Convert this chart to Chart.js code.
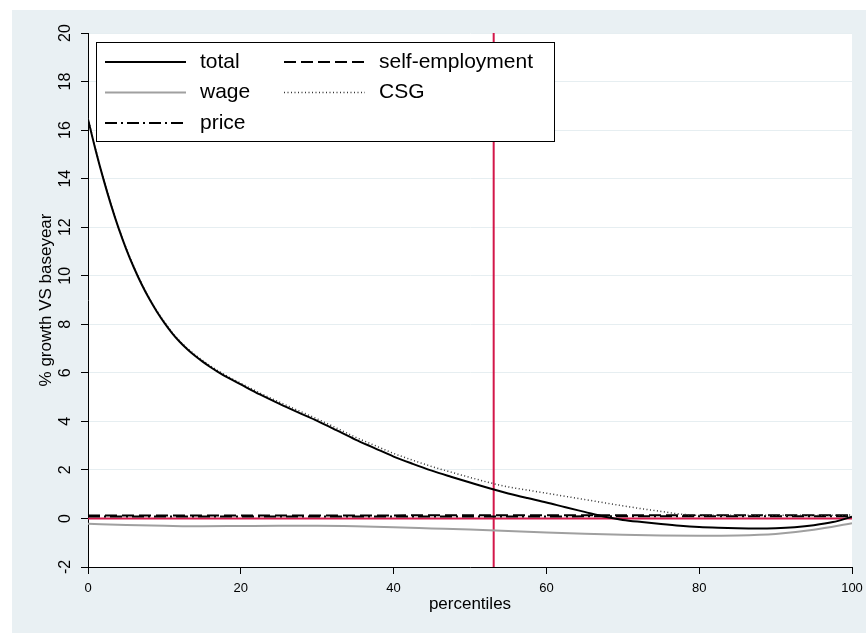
<!DOCTYPE html>
<html>
<head>
<meta charset="utf-8">
<script src="https://cdn.jsdelivr.net/npm/chart.js@4.4.1/dist/chart.umd.min.js"></script>
<style>
html,body{margin:0;padding:0;background:#ffffff;}
canvas{display:block;}
</style>
</head>
<body>
<canvas id="c" width="866" height="633"></canvas>
<script>
// ---- data ----
const xTicks = [0, 20, 40, 60, 80, 100];
const yTicks = [-2, 0, 2, 4, 6, 8, 10, 12, 14, 16, 18, 20];
const xTitle = "percentiles";
const yTitle = "% growth VS baseyear";

const xCurve = [0,1,2,3,4,5,6,7,8,9,10,11,12,13,14,15,16,17,18,20,22.5,25,27.5,30,32.5,35,37.5,40,42.5,45,47.5,50,53,55,57.5,60,62.5,65,67.5,70,72.5,75,77.5,80,82.5,85,87.5,90,92.5,95,97.5,100];
const total = [16.45,15.17,14.0,12.93,11.96,11.1,10.34,9.66,9.06,8.53,8.06,7.64,7.28,6.97,6.7,6.46,6.24,6.04,5.85,5.52,5.11,4.73,4.37,4.02,3.64,3.25,2.9,2.55,2.25,1.97,1.72,1.48,1.2,1.03,0.84,0.66,0.46,0.27,0.08,-0.06,-0.15,-0.23,-0.3,-0.35,-0.38,-0.4,-0.41,-0.4,-0.36,-0.28,-0.15,0.07];
const csg = [16.48,15.2,14.03,12.96,11.99,11.13,10.37,9.69,9.09,8.56,8.09,7.67,7.31,7.01,6.75,6.51,6.29,6.09,5.9,5.57,5.17,4.8,4.45,4.1,3.73,3.35,3.01,2.68,2.4,2.14,1.91,1.69,1.44,1.3,1.17,1.04,0.91,0.78,0.65,0.52,0.4,0.29,0.18,0.13,0.13,0.13,0.13,0.13,0.13,0.13,0.13,0.14];

const xWage = [0,5,10,15,20,25,30,35,40,45,50,55,60,65,70,75,80,85,90,95,100];
const wage = [-0.22,-0.27,-0.3,-0.32,-0.31,-0.3,-0.3,-0.32,-0.36,-0.41,-0.46,-0.52,-0.58,-0.63,-0.67,-0.7,-0.71,-0.7,-0.64,-0.47,-0.2];

const xFlat = [0, 25, 50, 75, 100];
const selfEmployment = [0.12, 0.12, 0.13, 0.13, 0.13];
const price = [0.08, 0.08, 0.08, 0.09, 0.09];

const refLineX = 53.1;   // vertical reference line (percentile)
const refLineY = 0;      // horizontal reference line

const legendOrder = ["total", "self-employment", "wage", "CSG", "price"];

// ---- helpers ----
const pts = (xs, ys) => xs.map((x, i) => ({x: x, y: ys[i]}));
const RED = '#d3174a';
const FONT = '"Liberation Sans", Arial, Helvetica, sans-serif';
Chart.defaults.font.family = FONT;
Chart.defaults.color = '#000';

const bgPlugin = {
  id: 'stataBg',
  beforeDraw(chart) {
    const ctx = chart.ctx, a = chart.chartArea;
    ctx.save();
    ctx.fillStyle = '#ffffff';
    ctx.fillRect(0, 0, chart.width, chart.height);
    ctx.fillStyle = '#e9f0f3';
    ctx.fillRect(12, 10, chart.width - 12, chart.height - 10);
    ctx.fillStyle = '#ffffff';
    ctx.fillRect(a.left, a.top, a.right - a.left, a.bottom - a.top);
    ctx.restore();
  }
};

const legendPlugin = {
  id: 'boxLegend',
  afterDraw(chart) {
    const ctx = chart.ctx, a = chart.chartArea;
    const bx = a.left + 8, by = a.top + 9, bw = 458, bh = 99;
    ctx.save();
    ctx.fillStyle = '#ffffff';
    ctx.fillRect(bx, by, bw, bh);
    ctx.strokeStyle = '#000';
    ctx.lineWidth = 1;
    ctx.strokeRect(bx + 0.5, by + 0.5, bw, bh);
    ctx.font = '21px ' + FONT;
    ctx.textBaseline = 'middle';
    ctx.textAlign = 'left';
    legendOrder.forEach((label, i) => {
      const ds = chart.data.datasets.find(d => d.label === label);
      const col = i % 2, row = Math.floor(i / 2);
      const lx = bx + 9 + col * 179;
      const ly = by + 20 + row * 30.5;
      ctx.save();
      ctx.strokeStyle = ds.borderColor;
      ctx.lineWidth = ds.borderWidth;
      ctx.setLineDash(ds.borderDash || []);
      ctx.beginPath();
      ctx.moveTo(lx, ly);
      ctx.lineTo(lx + 81, ly);
      ctx.stroke();
      ctx.restore();
      ctx.fillStyle = '#000';
      ctx.fillText(label, lx + 95, ly);
    });
    ctx.restore();
  }
};

const common = {pointRadius: 0, fill: false, cubicInterpolationMode: 'monotone'};

new Chart(document.getElementById('c'), {
  type: 'line',
  data: {
    datasets: [
      Object.assign({label: 'total', data: pts(xCurve, total), borderColor: '#000', borderWidth: 2}, common),
      Object.assign({label: 'CSG', data: pts(xCurve, csg), borderColor: '#333', borderWidth: 1.5, borderDash: [1, 2.5]}, common),
      Object.assign({label: 'self-employment', data: pts(xFlat, selfEmployment), borderColor: '#000', borderWidth: 2, borderDash: [12, 5]}, common),
      Object.assign({label: 'price', data: pts(xFlat, price), borderColor: '#000', borderWidth: 2, borderDash: [12, 4, 2, 4]}, common),
      Object.assign({label: 'wage', data: pts(xWage, wage), borderColor: '#a0a0a0', borderWidth: 2}, common),
      {label: 'ref-h', data: [{x: 0, y: refLineY}, {x: 100, y: refLineY}], borderColor: RED, borderWidth: 2, pointRadius: 0},
      {label: 'ref-v', data: [{x: refLineX, y: -2}, {x: refLineX, y: 20}], borderColor: RED, borderWidth: 2, pointRadius: 0}
    ]
  },
  options: {
    responsive: false,
    animation: false,
    devicePixelRatio: 1,
    layout: {padding: {left: 0, top: 33, right: 14, bottom: 0}},
    plugins: {legend: {display: false}, tooltip: {enabled: false}},
    scales: {
      x: {
        type: 'linear', min: 0, max: 100,
        afterBuildTicks: s => { s.ticks = xTicks.map(v => ({value: v})); },
        afterFit: s => { s.height = 66; s.paddingLeft = 0; s.paddingRight = 0; },
        grid: {drawOnChartArea: false, tickLength: 7, tickColor: '#000', lineWidth: 1},
        border: {color: '#000', width: 1},
        ticks: {color: '#000', font: {size: 13}, padding: 7, minRotation: 0, maxRotation: 0},
        title: {display: true, text: xTitle, color: '#000', font: {size: 17}, padding: {top: 0, bottom: 18}}
      },
      y: {
        type: 'linear', min: -2, max: 20,
        afterBuildTicks: s => { s.ticks = yTicks.map(v => ({value: v})); },
        afterFit: s => { s.width = 88; s.paddingTop = 0; s.paddingBottom = 0; },
        grid: {color: '#e6eef1', lineWidth: 1, tickLength: 7, tickColor: '#000'},
        border: {color: '#000', width: 1},
        ticks: {color: '#000', font: {size: 16}, minRotation: 90, maxRotation: 90, crossAlign: 'center', padding: 7},
        title: {display: true, text: yTitle, color: '#000', font: {size: 17}, padding: {top: 36, bottom: 0}}
      }
    }
  },
  plugins: [bgPlugin, legendPlugin]
});
</script>
</body>
</html>
